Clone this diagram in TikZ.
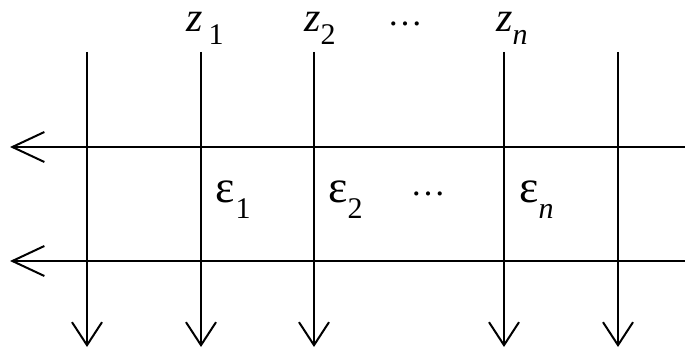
\documentclass[tikz,border=0pt]{standalone}
\usepackage{fontspec}
\setmainfont{Liberation Serif}
\newfontfamily\tnr{Liberation Serif}
\usetikzlibrary{arrows.meta}
\begin{document}
\begin{tikzpicture}[x=1pt,y=-1pt,
  wire/.style={line width=2pt},
  downarrow/.style={wire,-{Straight Barb[length=23pt,width=30pt,line width=2pt]}},
  leftarrow/.style={wire,-{Straight Barb[length=32pt,width=30pt,line width=2pt]}},
  lab/.style={inner sep=0pt,anchor=base west,font=\tnr\fontsize{42}{48}\selectfont},
  elab/.style={inner sep=0pt,anchor=base west,font=\tnr\fontsize{46}{50}\selectfont},
  dotsnode/.style={inner sep=0pt,anchor=center,font=\tnr\fontsize{35}{40}\selectfont}]
\useasboundingbox (0,0) rectangle (685,358);
% vertical lines
\foreach \n/\x in {a/87,b/201,c/314,d/504,e/618}{
  \coordinate (t\n) at (\x,52);
  \coordinate (b\n) at (\x,347);
  \draw[downarrow] (t\n) -- (b\n);
}
% horizontal lines
\coordinate (r1) at (685,147);
\coordinate (l1) at (10,147);
\coordinate (r2) at (685,261);
\coordinate (l2) at (10,261);
\draw[leftarrow] (r1) -- (l1);
\draw[leftarrow] (r2) -- (l2);
% subscripts
\newcommand{\mysubup}[1]{\raisebox{-13pt}{\tnr\fontsize{30}{32}\selectfont #1}}
\newcommand{\mysubdn}[1]{\raisebox{-16pt}{\tnr\fontsize{30}{32}\selectfont #1}}
% top labels
\node[lab] (z1) at (186,32) {\itshape z\upshape\kern6pt\mysubup{1}};
\node[lab] (z2) at (304,32) {\itshape z\upshape\mysubup{2}};
\node[dotsnode] (zd) at (405,24) {…};
\node[lab] (zn) at (496,32) {\itshape z\mysubup{n}};
% epsilon labels
\node[elab] (e1) at (215,203) {ε\kern1pt\mysubdn{1}};
\node[elab] (e2) at (328,203) {ε\mysubdn{2}};
\node[dotsnode] (ed) at (428,194) {…};
\node[elab] (en) at (519,203) {ε\mysubdn{\itshape n}};
\end{tikzpicture}
\end{document}
